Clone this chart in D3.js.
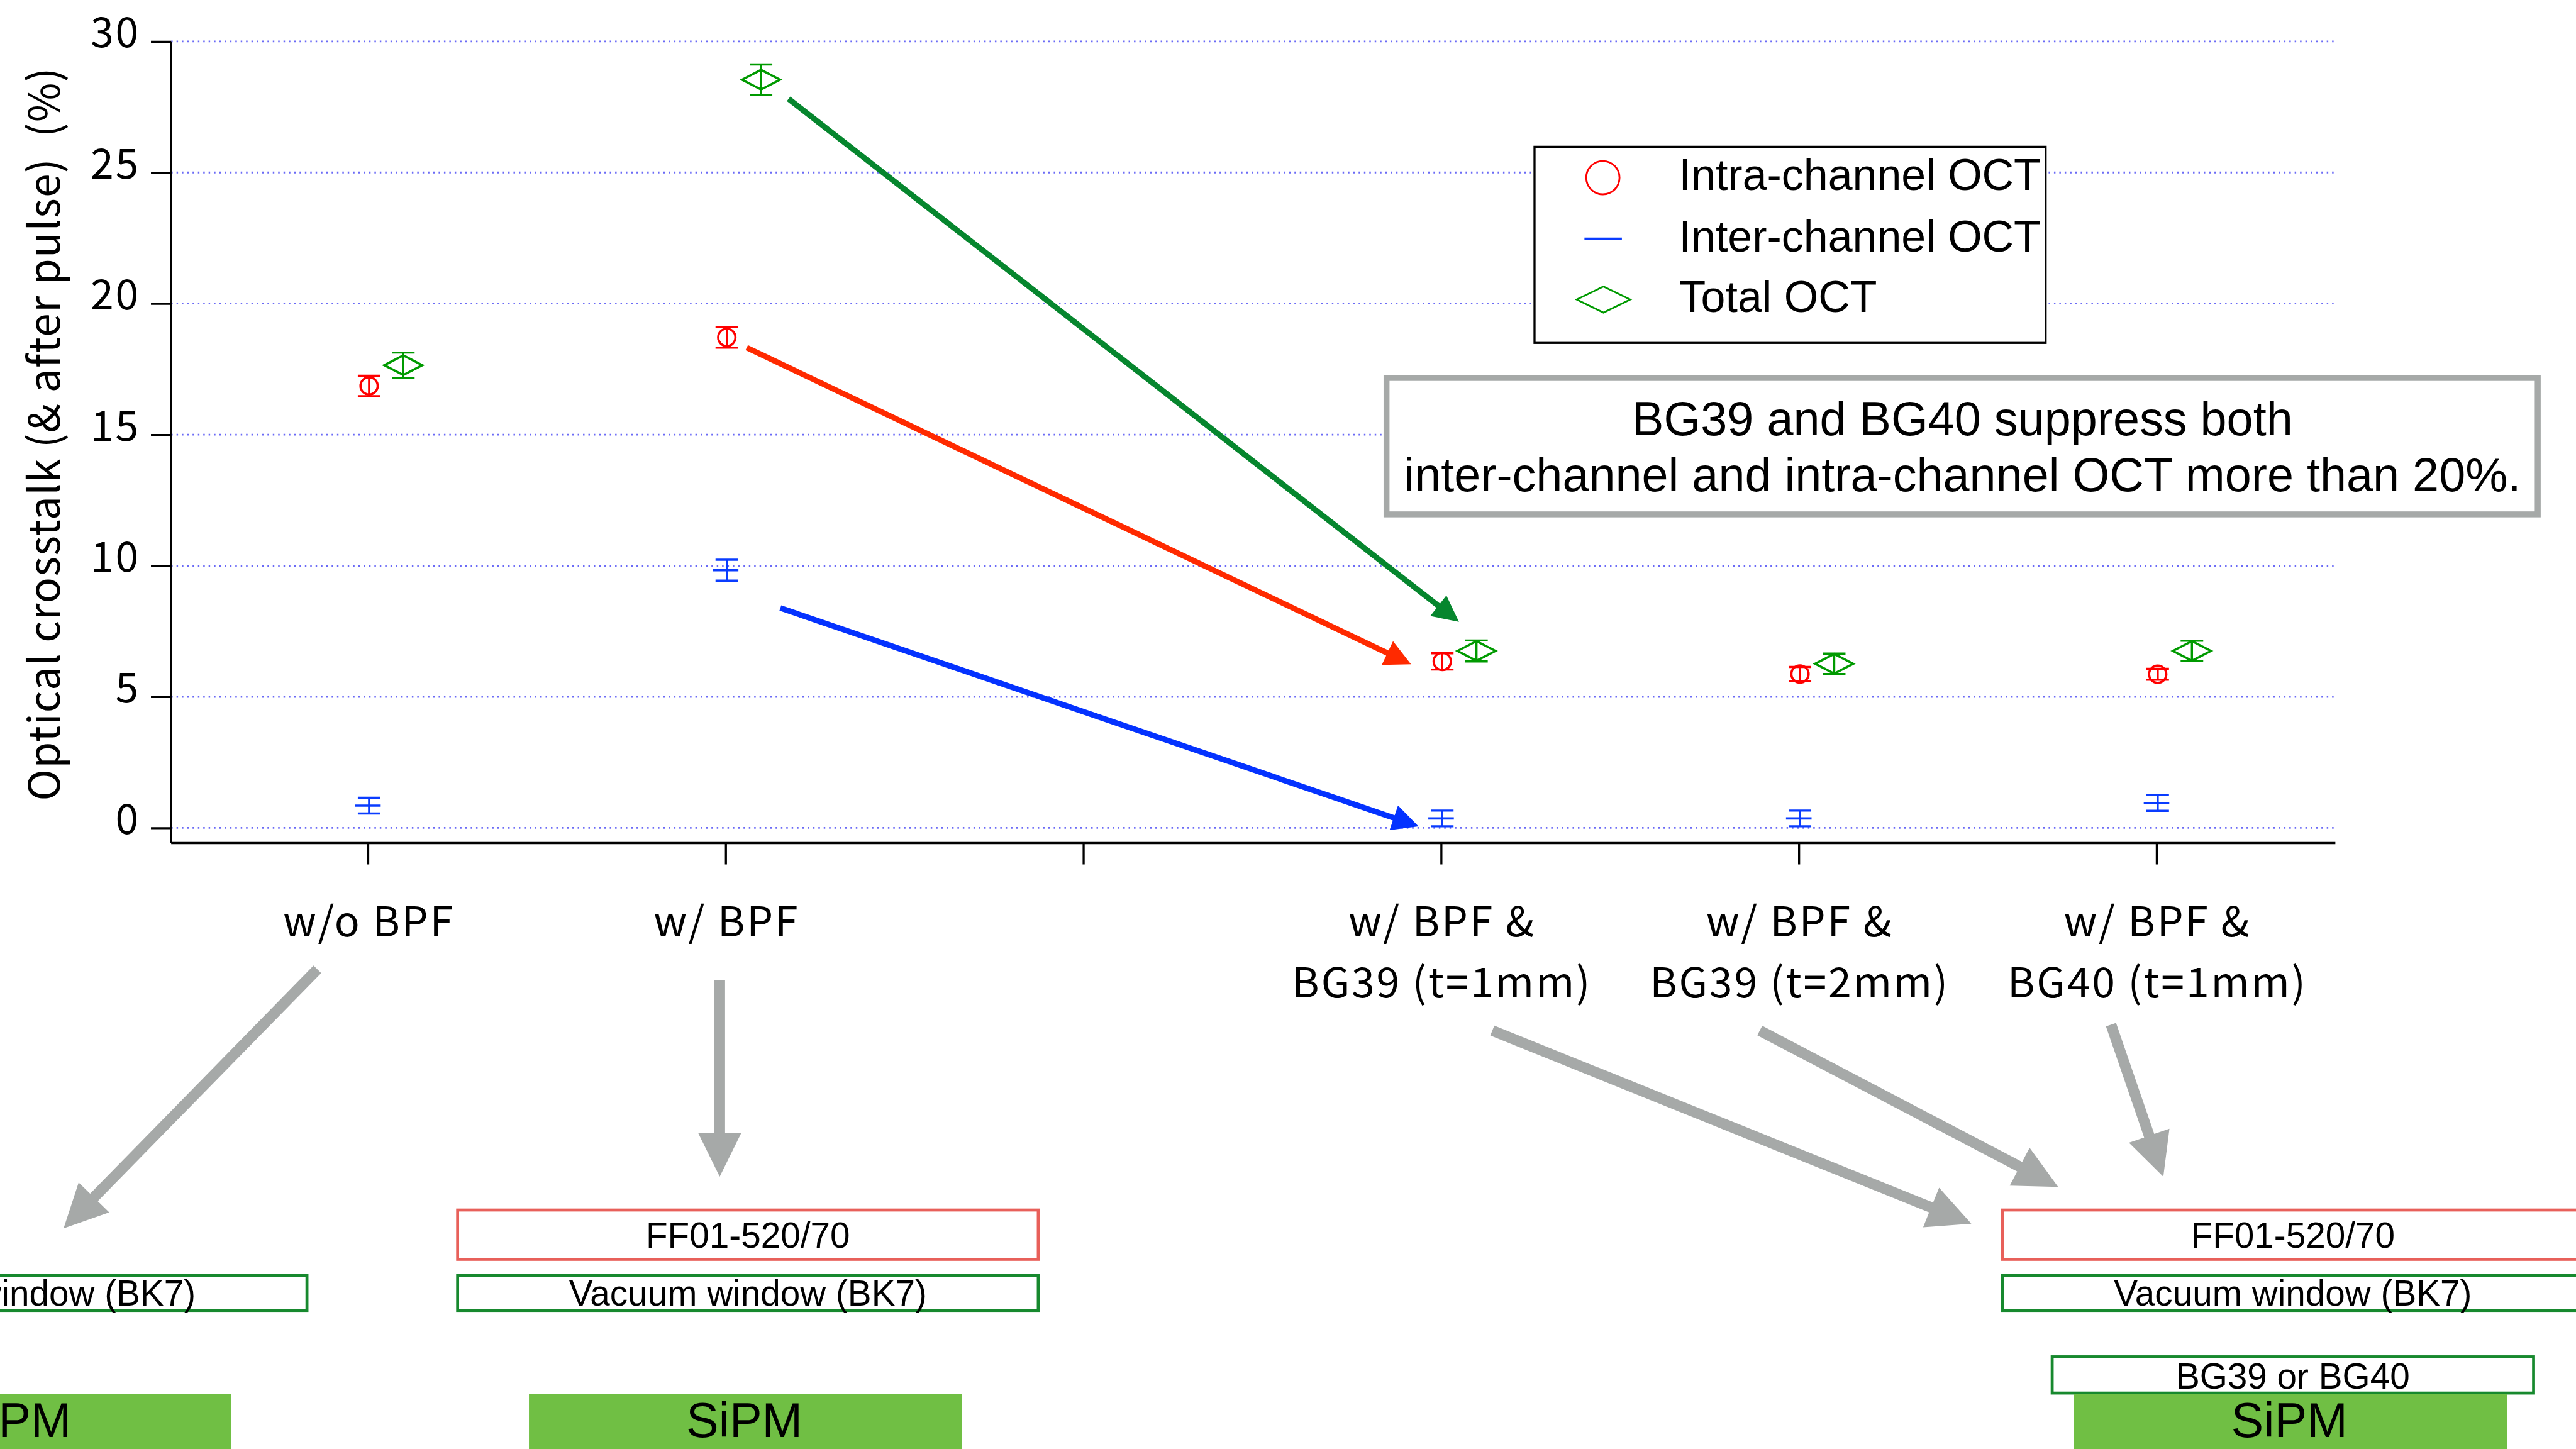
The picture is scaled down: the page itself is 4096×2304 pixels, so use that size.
<!DOCTYPE html>
<html>
<head>
<meta charset="utf-8">
<script src="https://cdn.jsdelivr.net/npm/d3@7"></script>
<style>
  html, body { margin: 0; padding: 0; background: #ffffff; overflow: hidden; }
  svg { display: block; }
</style>
</head>
<body>
<svg id="chart" width="4096" height="2304"></svg>
<script>
// ---------------- data ----------------
const tickPositions = [0, 1, 2, 3, 4, 5];
const tickLabels = [
  ["w/o BPF"],
  ["w/ BPF"],
  [],
  ["w/ BPF &", "BG39 (t=1mm)"],
  ["w/ BPF &", "BG39 (t=2mm)"],
  ["w/ BPF &", "BG40 (t=1mm)"]
];
const samplePositions = [0, 1, 3, 4, 5];
const intraOCT = [16.86, 18.71, 6.35, 5.87, 5.86];
const intraErr = [0.39, 0.39, 0.31, 0.27, 0.21];
const interOCT = [0.85, 9.83, 0.36, 0.36, 0.95];
const interErr = [0.30, 0.40, 0.30, 0.30, 0.30];
const totalOCT = [17.65, 28.54, 6.75, 6.26, 6.75];
const totalErr = [0.48, 0.58, 0.40, 0.39, 0.39];
const yTicks = [0, 5, 10, 15, 20, 25, 30];
const yTitle = "Optical crosstalk (& after pulse)  (%)";
const legendLabels = ["Intra-channel OCT", "Inter-channel OCT", "Total OCT"];
const noteLines = ["BG39 and BG40 suppress both", "inter-channel and intra-channel OCT more than 20%."];

// trend arrows, in data units (category position, %)
const trendFrom = { total: [1.176, 27.81], intra: [1.059, 18.32], inter: [1.153, 8.39] };
const trendTo   = { total: [3.05, 7.86],   intra: [2.916, 6.24],  inter: [2.937, 0.06] };

// filter stacks under the plot (top to bottom)
const stackLeft   = ["Vacuum window (BK7)", "SiPM"];
const stackMiddle = ["FF01-520/70", "Vacuum window (BK7)", "SiPM"];
const stackRight  = ["FF01-520/70", "Vacuum window (BK7)", "BG39 or BG40", "SiPM"];

// ---------------- styling ----------------
const COL = {
  intra: "#ff0000", inter: "#0a3cff", total: "#009a00",
  arrowIntra: "#ff2a00", arrowInter: "#0432ff", arrowTotal: "#06862e",
  grid: "#6a6af6", gray: "#a6a9a8", filterRed: "#e8605a", filterGreen: "#17892e", sipm: "#70bf44"
};
const FONT_J = "'Noto Sans CJK JP', 'Noto Sans', sans-serif";
const FONT_H = "'Liberation Sans', Arial, Helvetica, sans-serif";

// whole drawing is laid out on a 4332 x 2437 canvas, scaled to the window
const S = 0.945;
const svg = d3.select("#chart");
const root = svg.append("g").attr("transform", `scale(${S})`);

const x = d3.scaleLinear().domain([-0.55, 5.5]).range([288, 3929.5]);
const y = d3.scaleLinear().domain([-0.578, 30]).range([1418.5, 69.7]);
const greenOffset = 0.099;

// ---------------- gridlines ----------------
root.append("g").selectAll("line").data(yTicks).join("line")
  .attr("x1", x.range()[0]).attr("x2", x.range()[1])
  .attr("y1", d => y(d)).attr("y2", d => y(d))
  .attr("stroke", COL.grid).attr("stroke-width", 3)
  .attr("stroke-dasharray", "2.6 6.4");

// ---------------- axes ----------------
const yAxis = d3.axisLeft(y).tickValues(yTicks).tickSize(34).tickFormat("");
const gy = root.append("g").attr("transform", `translate(${x.range()[0]},0)`).call(yAxis);
gy.select(".domain").attr("d", `M0,${y(30)}V${y.range()[0]}`);
gy.selectAll("path, line").attr("stroke", "#000").attr("stroke-width", 3.5);

root.append("g").selectAll("text").data(yTicks).join("text")
  .attr("x", 236).attr("y", d => y(d) + 10)
  .attr("text-anchor", "end")
  .attr("font-family", FONT_J).attr("font-size", 70).attr("letter-spacing", 3)
  .attr("fill", "#000")
  .text(d => d);

const xAxis = d3.axisBottom(x).tickValues(tickPositions).tickSize(36).tickFormat("");
const gx = root.append("g").attr("transform", `translate(0,${y.range()[0]})`).call(xAxis);
gx.select(".domain").attr("d", `M${x.range()[0]},0H${x.range()[1]}`);
gx.selectAll("path, line").attr("stroke", "#000").attr("stroke-width", 3.5);

const xl = root.append("g").selectAll("text").data(tickPositions).join("text")
  .attr("text-anchor", "middle")
  .attr("font-family", FONT_J).attr("font-size", 70).attr("letter-spacing", 3)
  .attr("fill", "#000");
xl.each(function (p, i) {
  d3.select(this).selectAll("tspan").data(tickLabels[i]).join("tspan")
    .attr("x", x(p) + 1.5).attr("y", (d, j) => 1576 + j * 102)
    .style("white-space", "pre")
    .text(d => d);
});

root.append("text")
  .attr("transform", "translate(100,730) rotate(-90)")
  .attr("text-anchor", "middle")
  .attr("font-family", FONT_J).attr("font-size", 72).attr("letter-spacing", 1.2)
  .attr("fill", "#000")
  .style("white-space", "pre")
  .text(yTitle);

// ---------------- data marks ----------------
function errorBar(g, cx, v, e, color) {
  const capW = 38;
  g.append("line").attr("x1", cx).attr("x2", cx).attr("y1", y(v - e)).attr("y2", y(v + e))
    .attr("stroke", color).attr("stroke-width", 3.6);
  [v - e, v + e].forEach(t => {
    g.append("line").attr("x1", cx - capW / 2).attr("x2", cx + capW / 2)
      .attr("y1", y(t)).attr("y2", y(t))
      .attr("stroke", color).attr("stroke-width", 3.6);
  });
}
const marks = root.append("g");
samplePositions.forEach((p, i) => {
  // intra-channel: open circle
  const cxI = x(p) + 2;
  errorBar(marks, cxI, intraOCT[i], intraErr[i], COL.intra);
  marks.append("circle").attr("cx", cxI).attr("cy", y(intraOCT[i])).attr("r", 14.5)
    .attr("fill", "none").attr("stroke", COL.intra).attr("stroke-width", 3.8);

  // inter-channel: dash
  const cxB = x(p);
  errorBar(marks, cxB + 2, interOCT[i], interErr[i], COL.inter);
  marks.append("line").attr("x1", cxB - 21.5).attr("x2", cxB + 21.5)
    .attr("y1", y(interOCT[i])).attr("y2", y(interOCT[i]))
    .attr("stroke", COL.inter).attr("stroke-width", 3.8);

  // total: open diamond
  const cxT = x(p + greenOffset);
  errorBar(marks, cxT, totalOCT[i], totalErr[i], COL.total);
  const cy = y(totalOCT[i]);
  marks.append("path")
    .attr("d", `M${cxT - 32},${cy}L${cxT},${cy - 16.5}L${cxT + 32},${cy}L${cxT},${cy + 16.5}Z`)
    .attr("fill", "none").attr("stroke", COL.total).attr("stroke-width", 3.8)
    .attr("stroke-linejoin", "miter");
});

// ---------------- arrows ----------------
function arrowPath(x1, y1, x2, y2, w, hl, hw) {
  const dx = x2 - x1, dy = y2 - y1, L = Math.hypot(dx, dy);
  const ux = dx / L, uy = dy / L, nx = -uy, ny = ux;
  const bx = x2 - ux * hl, by = y2 - uy * hl;
  const pts = [
    [x1 + nx * w / 2, y1 + ny * w / 2],
    [bx + nx * w / 2, by + ny * w / 2],
    [bx + nx * hw, by + ny * hw],
    [x2, y2],
    [bx - nx * hw, by - ny * hw],
    [bx - nx * w / 2, by - ny * w / 2],
    [x1 - nx * w / 2, y1 - ny * w / 2]
  ];
  return d3.line()(pts) + "Z";
}
const trend = root.append("g");
[["total", COL.arrowTotal], ["intra", COL.arrowIntra], ["inter", COL.arrowInter]].forEach(([k, c]) => {
  const a = trendFrom[k], b = trendTo[k];
  trend.append("path")
    .attr("d", arrowPath(x(a[0]), y(a[1]), x(b[0]), y(b[1]), 9.5, 44, 22))
    .attr("fill", c);
});

// grey pointers from the category labels to the filter stacks
const pointers = [
  [534, 1631, 107, 2067],
  [1211, 1649, 1211, 1980],
  [2511, 1734, 3317, 2059],
  [2961, 1734, 3463, 1997],
  [3552, 1724, 3640, 1980]
];
root.append("g").selectAll("path").data(pointers).join("path")
  .attr("d", d => arrowPath(d[0], d[1], d[2], d[3], 18, 73, 36))
  .attr("fill", COL.gray);

// ---------------- legend ----------------
const lg = root.append("g");
lg.append("rect").attr("x", 2582).attr("y", 247).attr("width", 860).attr("height", 330)
  .attr("fill", "#fff").attr("stroke", "#000").attr("stroke-width", 3.5);
const rowY = [299, 402, 504];
lg.append("circle").attr("cx", 2697).attr("cy", rowY[0]).attr("r", 28)
  .attr("fill", "none").attr("stroke", COL.intra).attr("stroke-width", 3);
lg.append("line").attr("x1", 2666).attr("x2", 2729).attr("y1", rowY[1]).attr("y2", rowY[1])
  .attr("stroke", COL.inter).attr("stroke-width", 4.5);
lg.append("path")
  .attr("d", `M2653,${rowY[2]}L2698,${rowY[2] - 22}L2743,${rowY[2]}L2698,${rowY[2] + 22}Z`)
  .attr("fill", "none").attr("stroke", COL.total).attr("stroke-width", 3);
lg.selectAll("text.lab").data(legendLabels).join("text")
  .attr("class", "lab")
  .attr("x", 2825).attr("y", (d, i) => rowY[i] + 21)
  .attr("font-family", FONT_H).attr("font-size", 74).attr("fill", "#000")
  .text(d => d);

// ---------------- note box ----------------
const nb = root.append("g");
nb.append("rect").attr("x", 2333).attr("y", 636).attr("width", 1937).attr("height", 229.5)
  .attr("fill", "#fff").attr("stroke", COL.gray).attr("stroke-width", 10);
nb.selectAll("text").data(noteLines).join("text")
  .attr("x", 3302).attr("y", (d, i) => 732 + i * 95)
  .attr("text-anchor", "middle")
  .attr("font-family", FONT_H).attr("font-size", 80).attr("fill", "#000")
  .text(d => d);

// ---------------- filter stacks ----------------
function drawStack(cx, layers) {
  const g = root.append("g");
  const hasBPF = layers[0] === "FF01-520/70";
  const hasBG = layers.includes("BG39 or BG40");
  const boxW = 977, sipmW = 729, bgW = 810;
  if (hasBPF) {
    g.append("rect").attr("x", cx - boxW / 2).attr("y", 2036).attr("width", boxW).attr("height", 83)
      .attr("fill", "#fff").attr("stroke", COL.filterRed).attr("stroke-width", 5);
  }
  g.append("rect").attr("x", cx - boxW / 2).attr("y", 2146).attr("width", boxW).attr("height", 59)
    .attr("fill", "#fff").attr("stroke", COL.filterGreen).attr("stroke-width", 5);
  if (hasBG) {
    g.append("rect").attr("x", cx - bgW / 2).attr("y", 2283).attr("width", bgW).attr("height", 61)
      .attr("fill", "#fff").attr("stroke", COL.filterGreen).attr("stroke-width", 5);
  }
  g.append("rect").attr("x", cx - sipmW / 2 - 4).attr("y", 2346).attr("width", sipmW).attr("height", 120)
    .attr("fill", COL.sipm);

  const textY = {
    "FF01-520/70": 2100, "Vacuum window (BK7)": 2197, "BG39 or BG40": 2336, "SiPM": 2418
  };
  layers.forEach(t => {
    g.append("text").attr("x", t === "SiPM" ? cx - 6 : cx).attr("y", textY[t])
      .attr("text-anchor", "middle")
      .attr("font-family", FONT_H).attr("font-size", t === "SiPM" ? 82 : 60).attr("fill", "#000")
      .text(t);
  });
}
drawStack(28, stackLeft);
drawStack(1258.5, stackMiddle);
drawStack(3858, stackRight);
</script>
</body>
</html>
